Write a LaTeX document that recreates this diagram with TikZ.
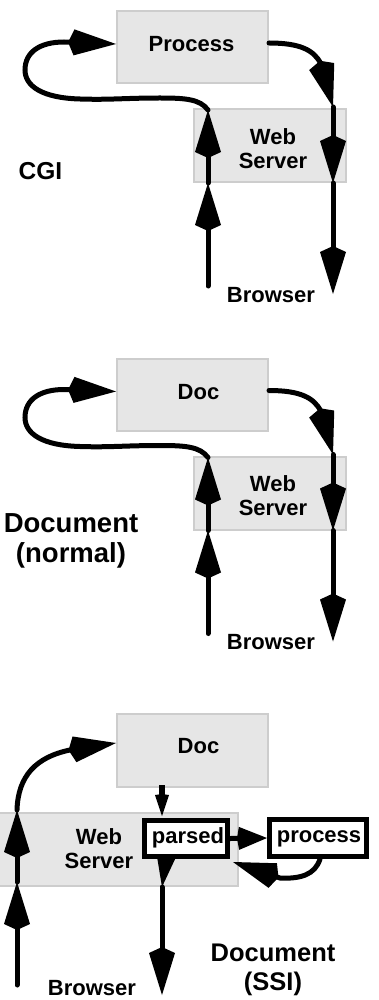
\documentclass[tikz,border=0pt]{standalone}
\usepackage{fontspec}
\setmainfont{Liberation Sans}
\usetikzlibrary{arrows.meta}

\definecolor{boxfill}{HTML}{E6E6E6}
\definecolor{boxline}{HTML}{CDCDCD}

\tikzset{
  graybox/.style={draw=boxline, fill=boxfill, line width=2pt, inner sep=0pt},
  framebox/.style={draw=black, fill=white, line width=5pt, inner sep=0pt},
  boxlabel/.style={font=\fontsize{22}{24}\selectfont\bfseries, inner sep=0pt},
  sidelabel/.style={inner sep=0pt, align=center},
  bighead/.tip={Kite[length=48pt,width=26pt,inset=6pt,line width=0pt]},
  flow/.style={line width=5pt, line cap=round, -bighead},
}

% one request round trip: source box above, web server below
% #1 = prefix for names, #2 = source label, #3 = x of the source label
\newcommand{\requestflow}[3]{%
  \node[graybox, minimum width=151pt, minimum height=72pt] (#1src) at (192.5,47) {};
  \node[graybox, minimum width=152pt, minimum height=73pt] (#1web) at (270,145.5) {};
  \node[boxlabel, anchor=base] (#1srclabel) at (#3,52) {#2};
  \node[boxlabel, align=center] (#1weblabel) at (273,148.5) {Web\\Server};
  \node[boxlabel, anchor=base] (#1browser) at (271,302) {Browser};
  \coordinate (#1up0) at (208,286);
  \coordinate (#1up1) at (208,183);
  \coordinate (#1up2) at (208,110);
  \coordinate (#1dn0) at (333,107);
  \coordinate (#1dn1) at (333,183);
  \coordinate (#1dn2) at (333,294);
  \draw[flow] (#1up0) -- (#1up1);
  \draw[flow] (#1up1) -- (#1up2);
  \draw[flow] (#1up2) .. controls (200,99) and (185,98) .. (160,98)
    .. controls (125,98) and (110,100) .. (80,99)
    .. controls (42,98) and (25,86) .. (25,70)
    .. controls (25,52) and (40,42) .. (64,42) -- ([yshift=3pt]#1src.west);
  \draw[flow] ([yshift=4pt]#1src.east) .. controls (300,43) and (314,50) .. (321,64) -- (#1dn0);
  \draw[flow] (#1dn0) -- (#1dn1);
  \draw[flow] (#1dn1) -- (#1dn2);
}

\begin{document}
\begin{tikzpicture}[x=1pt, y=-1pt]
\useasboundingbox (0,0) rectangle (378,1000);

% CGI
\requestflow{cgi-}{Process}{191.5}
\node[sidelabel, font=\fontsize{24.5}{28}\selectfont\bfseries, anchor=base] (cgi) at (40.5,180) {CGI};

% plain document
\begin{scope}[shift={(0,347.5)}]
  \requestflow{doc-}{Doc}{198.5}
\end{scope}
\node[sidelabel, font=\fontsize{27.5}{30}\selectfont\bfseries] (normal) at (71,541) {Document\\(normal)};

% server side includes
\node[graybox, minimum width=151pt, minimum height=73pt] (ssidoc) at (192.5,750.5) {};
\node[graybox, minimum width=258pt, minimum height=73pt] (ssiweb) at (109,849.5) {};
\node[boxlabel, anchor=base] (ssidoclabel) at (198.5,753) {Doc};
\node[boxlabel, align=center] (ssiweblabel) at (99,848.7) {Web\\Server};

\coordinate (l0) at (17,985);
\coordinate (l1) at (17,882);
\coordinate (l2) at (17,810);
\coordinate (p0) at (162,887);
\coordinate (p1) at (162,995);

\draw[flow] (l0) -- (l1);
\draw[flow] (l1) -- (l2);
\draw[flow] (l2) .. controls (18,776) and (36,757) .. (70,750) -- ([yshift=7.5pt]ssidoc.west);

% output of the parser goes down to the browser
\draw[flow] ([xshift=-24pt]ssidoc.south |- 0,840) -- (p0);
\draw[flow] (p0) -- (p1);

\node[framebox, minimum width=83pt, minimum height=36pt] (parsed) at (186,838.5) {};
\node[framebox, minimum width=97pt, minimum height=37pt] (process) at (318,838) {};
\node[boxlabel, anchor=base] (parsedlabel) at (188,843) {parsed};
\node[boxlabel, anchor=base] (processlabel) at (319,842) {process};

\draw[line width=6.5pt, -{Kite[length=22pt,width=14pt,inset=1pt,line width=0pt]}]
  ([xshift=-30.5pt,yshift=3pt]ssidoc.south) -- ([xshift=-24pt,yshift=2pt]parsed.north);
\draw[line width=5pt, -{Kite[length=30pt,width=23pt,inset=2pt,line width=0pt]}]
  (parsed.east) -- (process.west);
\draw[flow] ([xshift=2pt]process.south) .. controls (315,875) and (300,879) .. (280,878)
  -- ([xshift=3pt,yshift=-3pt]parsed.south east);

\node[boxlabel, anchor=base] (ssibrowser) at (92,995.5) {Browser};
\node[sidelabel, font=\fontsize{25.5}{29}\selectfont\bfseries] (ssi) at (273,970) {Document\\(SSI)};
\end{tikzpicture}
\end{document}
